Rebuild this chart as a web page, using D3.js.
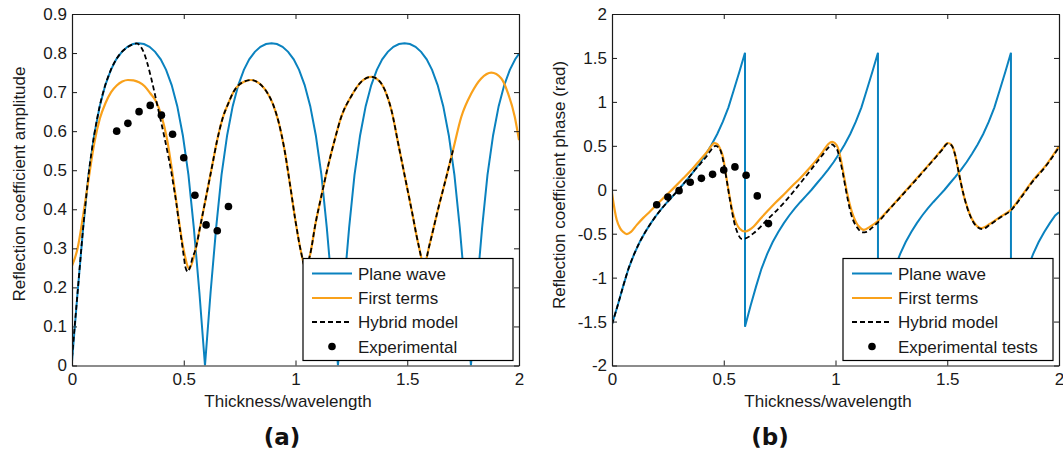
<!DOCTYPE html>
<html><head><meta charset="utf-8">
<script src="https://cdn.jsdelivr.net/npm/d3@7"></script>
<style>body{margin:0;background:#fff} svg{display:block}</style>
</head><body><svg id="c" width="1063" height="454"></svg>
<script>
// ---------- tick labels ----------
const thickTicks=[0,0.5,1,1.5,2];
const thickTickLabels=["0","0.5","1","1.5","2"];
const ampTicks=[0,0.1,0.2,0.3,0.4,0.5,0.6,0.7,0.8,0.9];
const ampTickLabels=["0","0.1","0.2","0.3","0.4","0.5","0.6","0.7","0.8","0.9"];
const phaseTicks=[-2,-1.5,-1,-0.5,0,0.5,1,1.5,2];
const phaseTickLabels=["-2","-1.5","-1","-0.5","0","0.5","1","1.5","2"];
const legendA=["Plane wave","First terms","Hybrid model","Experimental"];
const legendB=["Plane wave","First terms","Hybrid model","Experimental tests"];

// ---------- plane wave ----------
const pwX=[0,0.025,0.050,0.074,0.099,0.124,0.149,0.174,0.198,0.223,0.248,0.273,0.298,0.322,0.347,0.372,0.397,0.421,0.446,0.471,0.496,0.521,0.545,0.570,0.595,
0.620,0.645,0.669,0.694,0.719,0.744,0.769,0.793,0.818,0.843,0.868,0.893,0.917,0.942,0.967,0.992,1.016,1.041,1.066,1.091,1.116,1.140,1.165,1.190,
1.215,1.240,1.264,1.289,1.314,1.339,1.364,1.388,1.413,1.438,1.463,1.488,1.512,1.537,1.562,1.587,1.611,1.636,1.661,1.686,1.711,1.735,1.760,1.785,
1.810,1.835,1.859,1.884,1.909,1.934,1.959,1.983,2.000];
const pwAmp=[0.010,0.187,0.353,0.488,0.589,0.664,0.718,0.757,0.784,0.803,0.816,0.823,0.825,0.823,0.816,0.803,0.784,0.757,0.718,0.664,0.589,0.488,0.353,0.187,0.000,
0.187,0.353,0.488,0.589,0.664,0.718,0.757,0.784,0.803,0.816,0.823,0.825,0.823,0.816,0.803,0.784,0.757,0.718,0.664,0.589,0.488,0.353,0.187,0.000,
0.187,0.353,0.488,0.589,0.664,0.718,0.757,0.784,0.803,0.816,0.823,0.825,0.823,0.816,0.803,0.784,0.757,0.718,0.664,0.589,0.488,0.353,0.187,0.000,
0.187,0.353,0.488,0.589,0.664,0.718,0.757,0.784,0.798];
const pwPhase=[-1.53,-1.32,-1.097,-0.897,-0.733,-0.595,-0.48,-0.38,-0.293,-0.213,-0.139,-0.069,0,0.074,0.15,0.23,0.316,0.409,0.515,0.635,0.775,0.938,1.136,1.342,1.56,
-1.32,-1.097,-0.897,-0.733,-0.595,-0.48,-0.38,-0.293,-0.213,-0.139,-0.069,0,0.074,0.15,0.23,0.316,0.409,0.515,0.635,0.775,0.938,1.136,1.342,1.56,
-1.32,-1.097,-0.897,-0.733,-0.595,-0.48,-0.38,-0.293,-0.213,-0.139,-0.069,0,0.074,0.15,0.23,0.316,0.409,0.515,0.635,0.775,0.938,1.136,1.342,1.56,
-1.32,-1.097,-0.897,-0.733,-0.595,-0.48,-0.38,-0.293,-0.255];
const pwPhaseJumpX=[0.595,1.190,1.785];
const pwPhaseJumpBottom=-1.56;

// ---------- first terms ----------
const ftAmpX=[0,0.025,0.05,0.075,0.1,0.125,0.15,0.175,0.2,0.225,0.25,0.275,0.3,0.325,0.35,0.375,0.4,0.425,0.45,0.475,0.5,0.525,0.55,0.575,0.6,0.625,0.65,0.675,0.7,0.725,0.75,0.775,0.8,0.825,0.85,0.875,0.9,0.925,0.95,0.975,1.0,
1.025,1.045,1.065,1.09,1.115,1.145,1.175,1.205,1.25,1.295,1.34,1.355,1.4,1.43,1.46,1.49,1.52,1.55,1.575,1.6,1.637,1.675,1.705,1.742,1.787,1.831,1.876,1.921,1.951,1.981,2.0];
const ftAmp=[0.255,0.30,0.385,0.48,0.57,0.633,0.672,0.700,0.717,0.727,0.731,0.730,0.725,0.715,0.697,0.677,0.640,0.580,0.490,0.385,0.295,0.248,0.290,0.360,0.432,0.505,0.578,0.635,0.672,0.703,0.720,0.728,0.731,0.727,0.716,0.697,0.668,0.622,0.555,0.465,0.370,
0.290,0.250,0.283,0.365,0.432,0.509,0.577,0.637,0.690,0.727,0.739,0.737,0.705,0.652,0.567,0.482,0.397,0.310,0.258,0.310,0.398,0.483,0.552,0.637,0.697,0.735,0.750,0.735,0.697,0.637,0.577];
const ftPhaseX=[0,0.021,0.036,0.05,0.066,0.085,0.111,0.14,0.17,0.2,0.245,0.28,0.32,0.36,0.395,0.425,0.445,0.457,0.47,0.481,0.496,0.511,0.526,0.541,0.556,0.57,0.596,0.615,0.634,0.664,0.694,0.73,0.768,0.805,0.843,0.88,0.915,0.945,0.968,0.985,0.997,
1.008,1.019,1.03,1.041,1.052,1.063,1.075,1.09,1.105,1.127,1.155,1.187,1.24,1.291,1.35,1.411,1.45,1.48,1.501,1.512,1.523,1.535,1.546,1.56,1.575,1.59,1.605,1.625,1.65,1.69,1.74,1.785,1.83,1.874,1.949,2.0];
const ftPhase=[-0.04,-0.342,-0.437,-0.48,-0.505,-0.48,-0.40,-0.32,-0.247,-0.17,-0.057,0.03,0.133,0.24,0.342,0.43,0.50,0.53,0.52,0.48,0.38,0.152,-0.076,-0.266,-0.38,-0.44,-0.475,-0.455,-0.418,-0.33,-0.247,-0.15,-0.057,0.04,0.133,0.235,0.34,0.44,0.52,0.545,0.53,
0.494,0.40,0.266,0.11,-0.038,-0.16,-0.266,-0.36,-0.418,-0.456,-0.42,-0.361,-0.22,-0.076,0.09,0.266,0.38,0.47,0.532,0.525,0.494,0.40,0.266,0.09,-0.076,-0.20,-0.304,-0.39,-0.437,-0.39,-0.304,-0.228,-0.08,0.076,0.304,0.494];

// ---------- hybrid model ----------
const hyAmpX=[0,0.025,0.05,0.074,0.099,0.124,0.149,0.174,0.198,0.223,0.248,0.27,0.289,0.305,0.323,0.338,0.353,0.368,0.383,0.398,0.413,0.428,0.443,0.455,0.467,0.478,0.49,0.5,0.507,0.518,0.53,0.54,0.55,
0.575,0.6,0.625,0.65,0.675,0.7,0.725,0.75,0.775,0.8,0.825,0.85,0.875,0.9,0.925,0.95,0.975,1.0,1.025,1.045,1.065,1.09,1.115,1.145,1.175,1.205,1.25,1.295,1.34,1.355,1.4,1.43,1.46,1.49,1.52,1.55,1.575,1.6,1.637,1.675,1.705];
const hyAmp=[0.02,0.187,0.353,0.488,0.589,0.664,0.718,0.757,0.784,0.803,0.815,0.822,0.825,0.818,0.799,0.772,0.739,0.702,0.663,0.625,0.586,0.544,0.500,0.458,0.415,0.368,0.321,0.280,0.253,0.240,0.255,0.278,0.292,
0.360,0.432,0.505,0.578,0.635,0.672,0.703,0.720,0.728,0.731,0.727,0.716,0.697,0.668,0.622,0.555,0.465,0.370,0.290,0.250,0.283,0.365,0.432,0.509,0.577,0.637,0.690,0.727,0.739,0.737,0.705,0.652,0.567,0.482,0.397,0.310,0.258,0.310,0.398,0.483,0.552];
const hyPhaseX=[0,0.025,0.05,0.074,0.099,0.124,0.149,0.174,0.198,0.223,0.248,0.273,0.298,0.322,0.347,0.372,0.397,0.42,0.44,0.455,0.465,0.475,0.485,0.5,0.515,0.53,0.545,0.56,0.58,0.595,0.634,0.694,0.768,0.843,0.9,0.94,0.965,0.985,1.0,
1.01,1.02,1.032,1.045,1.058,1.07,1.085,1.1,1.12,1.14,1.16,1.19,1.24,1.291,1.35,1.411,1.45,1.48,1.501,1.512,1.523,1.535,1.546,1.56,1.575,1.59,1.605,1.625,1.658,1.69,1.74,1.785,1.83,1.874,1.949,2.0];
const hyPhase=[-1.53,-1.32,-1.097,-0.897,-0.733,-0.595,-0.48,-0.38,-0.293,-0.213,-0.139,-0.069,0,0.074,0.15,0.23,0.30,0.37,0.44,0.49,0.50,0.485,0.45,0.30,0.08,-0.15,-0.35,-0.48,-0.558,-0.555,-0.494,-0.342,-0.152,0.076,0.26,0.39,0.47,0.515,0.48,
0.44,0.34,0.2,0.02,-0.15,-0.28,-0.38,-0.44,-0.486,-0.48,-0.44,-0.37,-0.225,-0.083,0.083,0.26,0.373,0.463,0.525,0.52,0.49,0.40,0.266,0.09,-0.076,-0.21,-0.31,-0.40,-0.448,-0.40,-0.31,-0.235,-0.09,0.066,0.295,0.485];

// ---------- experimental ----------
const expX=[0.2,0.25,0.3,0.35,0.4,0.45,0.5,0.55,0.6,0.65,0.7];
const expAmp=[0.600,0.620,0.650,0.666,0.641,0.592,0.532,0.436,0.360,0.345,0.407];
const expPhase=[-0.17,-0.082,-0.01,0.085,0.13,0.175,0.225,0.26,0.165,-0.07,-0.385];

// ---------- drawing ----------
const BLUE="#0a82bf", ORANGE="#f9a11b", FONT='"Liberation Sans", Arial, sans-serif';
const svg=d3.select("#c");

function zip(xs,ys){return xs.map((x,i)=>[x,ys[i]]);}

function panel(opt){
  const x=d3.scaleLinear().domain([0,2]).range(opt.xr);
  const y=d3.scaleLinear().domain(opt.yd).range([365.5,14]);
  const g=svg.append("g");
  const cid="clip"+opt.id;
  svg.append("clipPath").attr("id",cid).append("rect")
     .attr("x",opt.xr[0]).attr("y",14).attr("width",opt.xr[1]-opt.xr[0]).attr("height",351.5);
  const plot=g.append("g").attr("clip-path",`url(#${cid})`);
  const lineL=d3.line().x(d=>x(d[0])).y(d=>y(d[1]));
  const lineS=d3.line().x(d=>x(d[0])).y(d=>y(d[1])).curve(d3.curveMonotoneX);
  plot.append("path").attr("d",lineL(opt.pw)).attr("fill","none").attr("stroke",BLUE).attr("stroke-width",2);
  plot.append("path").attr("d",lineS(opt.ft)).attr("fill","none").attr("stroke",ORANGE).attr("stroke-width",2.2);
  plot.append("path").attr("d",lineS(opt.hy)).attr("fill","none").attr("stroke","#000").attr("stroke-width",1.8).attr("stroke-dasharray","5,3");
  plot.selectAll("circle").data(opt.ex).join("circle")
     .attr("cx",d=>x(d[0])).attr("cy",d=>y(d[1])).attr("r",3.8).attr("fill","#000");

  // axes (box with inward ticks)
  const fmtX=(d,i)=>thickTickLabels[i];
  const fmtY=(d,i)=>opt.yl[i];
  const ax=[];
  ax.push(g.append("g").attr("transform",`translate(0,365.5)`).call(d3.axisBottom(x).tickValues(thickTicks).tickFormat(fmtX).tickSizeInner(-5).tickSizeOuter(0).tickPadding(7)));
  ax.push(g.append("g").attr("transform",`translate(0,14)`).call(d3.axisTop(x).tickValues(thickTicks).tickFormat("").tickSizeInner(-5).tickSizeOuter(0)));
  ax.push(g.append("g").attr("transform",`translate(${opt.xr[0]},0)`).call(d3.axisLeft(y).tickValues(opt.yt).tickFormat(fmtY).tickSizeInner(-5).tickSizeOuter(0).tickPadding(5)));
  ax.push(g.append("g").attr("transform",`translate(${opt.xr[1]},0)`).call(d3.axisRight(y).tickValues(opt.yt).tickFormat("").tickSizeInner(-5).tickSizeOuter(0)));
  ax.forEach(a=>{
    a.attr("font-family",FONT).attr("font-size",17).attr("color","#1a1a1a");
    a.select(".domain").attr("stroke-width",1.2);
  });

  // axis titles
  g.append("text").attr("x",opt.xlabX).attr("y",407).attr("text-anchor","middle")
   .attr("font-family",FONT).attr("font-size",17).attr("fill","#1a1a1a").text("Thickness/wavelength");
  g.append("text").attr("transform",`translate(${opt.ylabX},${opt.ylabY}) rotate(-90)`).attr("text-anchor","middle")
   .attr("font-family",FONT).attr("font-size",17).attr("fill","#1a1a1a").text(opt.ylab);
  g.append("text").attr("x",opt.tagX).attr("y",445).attr("text-anchor","middle")
   .attr("font-family",'"DejaVu Sans", sans-serif').attr("font-weight","bold").attr("font-size",23).attr("fill","#111").text(opt.tag);

  // legend
  const L=g.append("g");
  L.append("rect").attr("x",opt.lg[0]).attr("y",258.5).attr("width",210).attr("height",102)
   .attr("fill","#fff").attr("stroke","#000").attr("stroke-width",1.2);
  const rows=[273.5,298,322,346.5];
  const lx=opt.lg[0]+9, lx2=opt.lg[0]+49, tx=opt.lg[0]+55;
  L.append("line").attr("x1",lx).attr("x2",lx2).attr("y1",rows[0]).attr("y2",rows[0]).attr("stroke",BLUE).attr("stroke-width",2);
  L.append("line").attr("x1",lx).attr("x2",lx2).attr("y1",rows[1]).attr("y2",rows[1]).attr("stroke",ORANGE).attr("stroke-width",2.2);
  L.append("line").attr("x1",lx).attr("x2",lx2).attr("y1",rows[2]).attr("y2",rows[2]).attr("stroke","#000").attr("stroke-width",1.8).attr("stroke-dasharray","5,3");
  L.append("circle").attr("cx",(lx+lx2)/2).attr("cy",rows[3]).attr("r",3.8).attr("fill","#000");
  opt.legend.forEach((t,i)=>{
    L.append("text").attr("x",tx).attr("y",rows[i]+6).attr("font-family",FONT).attr("font-size",17).attr("fill","#1a1a1a").text(t);
  });
}

// plane-wave phase path with the jumps
const pwPhasePts=[];
pwX.forEach((xv,i)=>{
  pwPhasePts.push([xv,pwPhase[i]]);
  if(pwPhaseJumpX.includes(xv)) pwPhasePts.push([xv,pwPhaseJumpBottom]);
});

panel({id:"a",xr:[72,519],yd:[0,0.9],yt:ampTicks,yl:ampTickLabels,
  pw:zip(pwX,pwAmp),ft:zip(ftAmpX,ftAmp),hy:zip(hyAmpX,hyAmp),ex:zip(expX,expAmp),
  xlabX:288,ylabX:25,ylabY:184,ylab:"Reflection coefficient amplitude",
  tag:"(a)",tagX:282,lg:[303],legend:legendA});
panel({id:"b",xr:[612,1059],yd:[-2,2],yt:phaseTicks,yl:phaseTickLabels,
  pw:pwPhasePts,ft:zip(ftPhaseX,ftPhase),hy:zip(hyPhaseX,hyPhase),ex:zip(expX,expPhase),
  xlabX:828,ylabX:565,ylabY:185,ylab:"Reflection coefficient phase (rad)",
  tag:"(b)",tagX:770,lg:[843],legend:legendB});
</script></body></html>
